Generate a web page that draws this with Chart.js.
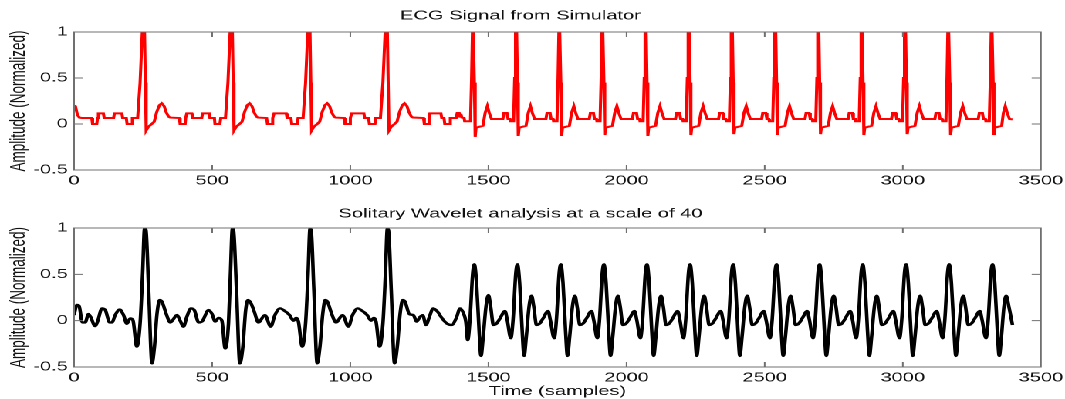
<!DOCTYPE html>
<html>
<head>
<meta charset="utf-8">
<script src="https://cdn.jsdelivr.net/npm/chart.js@4.4.1/dist/chart.umd.min.js"></script>
<style>
  html, body { margin: 0; padding: 0; background: #fff; overflow: hidden; }
  /* the original figure is stretched sideways, so draw narrow and widen it */
  #wrap { width: 690px; height: 399px; transform: scaleX(1.5435); transform-origin: 0 0; }
  #top { position: relative; width: 690px; height: 195px; }
  #bot { position: relative; width: 690px; height: 204px; }
</style>
</head>
<body>
<div id="wrap">
  <div id="top"><canvas id="ecgChart"></canvas></div>
  <div id="bot"><canvas id="waveChart"></canvas></div>
</div>
<script>
'use strict';

let xTicks = [0, 500, 1000, 1500, 2000, 2500, 3000, 3500];
let yTicks = [-0.5, 0, 0.5, 1];

let ecgTitle = 'ECG Signal from Simulator';
let waveTitle = 'Solitary Wavelet analysis at a scale of 40';
let yLabel = 'Amplitude (Normalized)';
let xLabel = 'Time (samples)';

// [sample, amplitude]
let ecgSignal = [
  [0,0.20],[5,0.19],[12,0.10],[19,0.07],[28,0.065],[64,0.065],[67,0.0],[82,0.0],[85,0.065],[88,0.115],[106,0.115],[109,0.065],[143,0.065],[146,0.115],[173,0.115],[176,0.065],[189,0.065],[192,0.0],[209,0.0],[211,0.065],[230,0.065],
  [239,0.45],[247,1.0],[251,0.85],[255,1.0],[258,0.45],[261,-0.07],[269,-0.03],[281,0.0],[290,0.025],[299,0.13],[309,0.205],[317,0.225],[326,0.195],[333,0.13],[342,0.08],[348,0.07],[381,0.065],[384,0.0],[402,0.0],[404,0.065],[408,0.115],[426,0.115],[430,0.065],[462,0.065],[465,0.115],[490,0.115],[492,0.065],[508,0.065],[510,0.0],[528,0.0],[531,0.065],[548,0.065],
  [557,0.45],[565,1.0],[569,0.85],[573,1.0],[576,0.45],[579,-0.07],[587,-0.03],[599,0.0],[608,0.025],[617,0.13],[627,0.205],[635,0.225],[644,0.195],[651,0.13],[660,0.08],[666,0.07],[697,0.065],[700,0.0],[716,0.0],[719,0.065],[724,0.115],[768,0.115],[771,0.065],[785,0.065],[788,0.0],[808,0.0],[811,0.065],[829,0.065],
  [838,0.45],[846,1.0],[850,0.85],[854,1.0],[857,0.45],[860,-0.07],[868,-0.03],[880,0.0],[889,0.025],[898,0.13],[908,0.205],[916,0.225],[925,0.195],[932,0.13],[941,0.08],[947,0.07],[978,0.065],[981,0.0],[997,0.0],[1000,0.065],[1005,0.115],[1049,0.115],[1052,0.065],[1066,0.065],[1069,0.0],[1089,0.0],[1092,0.065],[1109,0.065],
  [1118,0.45],[1126,1.0],[1130,0.85],[1134,1.0],[1137,0.45],[1140,-0.07],[1148,-0.03],[1160,0.0],[1169,0.025],[1178,0.13],[1188,0.205],[1196,0.225],[1205,0.195],[1212,0.13],[1221,0.08],[1227,0.07],[1265,0.065],[1268,0.0],[1282,0.0],[1285,0.065],[1288,0.115],[1328,0.115],[1331,0.065],[1339,0.065],[1342,0.0],[1359,0.0],[1362,0.065],[1383,0.065],[1387,0.12],[1394,0.12],[1397,0.08],[1400,0.11],[1404,0.07],[1412,0.065],[1414,0.03],
  [1435,0.03],[1439,0.5],[1442,1.0],[1444,0.75],[1446,1.0],[1449,0.45],[1452,-0.14],[1455,-0.04],[1480,-0.02],[1488,0.12],[1496,0.195],[1503,0.12],[1511,0.055],[1552,0.055],[1556,0.12],[1567,0.12],[1571,0.055],[1578,0.055],[1580,0.03],
  [1591,0.03],[1595,0.5],[1598,1.0],[1600,0.75],[1602,1.0],[1605,0.45],[1608,-0.13],[1611,-0.04],[1636,-0.02],[1644,0.12],[1652,0.195],[1659,0.12],[1667,0.055],[1708,0.055],[1712,0.12],[1723,0.12],[1727,0.055],[1734,0.055],[1736,0.03],
  [1748,0.03],[1752,0.5],[1755,1.0],[1757,0.75],[1759,1.0],[1762,0.45],[1765,-0.13],[1768,-0.04],[1793,-0.02],[1801,0.12],[1809,0.195],[1816,0.12],[1824,0.055],[1865,0.055],[1869,0.12],[1880,0.12],[1884,0.055],[1891,0.055],[1893,0.03],
  [1904,0.03],[1908,0.5],[1911,1.0],[1913,0.75],[1915,1.0],[1918,0.45],[1921,-0.12],[1924,-0.04],[1949,-0.02],[1957,0.12],[1965,0.195],[1972,0.12],[1980,0.055],[2021,0.055],[2025,0.12],[2036,0.12],[2040,0.055],[2047,0.055],[2049,0.03],
  [2060,0.03],[2064,0.5],[2067,1.0],[2069,0.75],[2071,1.0],[2074,0.45],[2077,-0.13],[2080,-0.04],[2105,-0.02],[2113,0.12],[2121,0.195],[2128,0.12],[2136,0.055],[2177,0.055],[2181,0.12],[2192,0.12],[2196,0.055],[2203,0.055],[2205,0.03],
  [2216,0.03],[2220,0.5],[2223,1.0],[2225,0.75],[2227,1.0],[2230,0.45],[2233,-0.12],[2236,-0.04],[2261,-0.02],[2269,0.12],[2277,0.195],[2284,0.12],[2292,0.055],[2333,0.055],[2337,0.12],[2348,0.12],[2352,0.055],[2359,0.055],[2361,0.03],
  [2372,0.03],[2376,0.5],[2379,1.0],[2381,0.75],[2383,1.0],[2386,0.45],[2389,-0.11],[2392,-0.04],[2417,-0.02],[2425,0.12],[2433,0.195],[2440,0.12],[2448,0.055],[2489,0.055],[2493,0.12],[2504,0.12],[2508,0.055],[2515,0.055],[2517,0.03],
  [2529,0.03],[2533,0.5],[2536,1.0],[2538,0.75],[2540,1.0],[2543,0.45],[2546,-0.12],[2549,-0.04],[2574,-0.02],[2582,0.12],[2590,0.195],[2597,0.12],[2605,0.055],[2646,0.055],[2650,0.12],[2661,0.12],[2665,0.055],[2672,0.055],[2674,0.03],
  [2685,0.03],[2689,0.5],[2692,1.0],[2694,0.75],[2696,1.0],[2699,0.45],[2702,-0.11],[2705,-0.04],[2730,-0.02],[2738,0.12],[2746,0.195],[2753,0.12],[2761,0.055],[2802,0.055],[2806,0.12],[2817,0.12],[2821,0.055],[2828,0.055],[2830,0.03],
  [2842,0.03],[2846,0.5],[2849,1.0],[2851,0.75],[2853,1.0],[2856,0.45],[2859,-0.12],[2862,-0.04],[2887,-0.02],[2895,0.12],[2903,0.195],[2910,0.12],[2918,0.055],[2959,0.055],[2963,0.12],[2974,0.12],[2978,0.055],[2985,0.055],[2987,0.03],
  [2999,0.03],[3003,0.5],[3006,1.0],[3008,0.75],[3010,1.0],[3013,0.45],[3016,-0.11],[3019,-0.04],[3044,-0.02],[3052,0.12],[3060,0.195],[3067,0.12],[3075,0.055],[3116,0.055],[3120,0.12],[3131,0.12],[3135,0.055],[3142,0.055],[3144,0.03],
  [3156,0.03],[3160,0.5],[3163,1.0],[3165,0.75],[3167,1.0],[3170,0.45],[3173,-0.12],[3176,-0.04],[3201,-0.02],[3209,0.12],[3217,0.195],[3224,0.12],[3232,0.055],[3273,0.055],[3277,0.12],[3288,0.12],[3292,0.055],[3299,0.055],[3301,0.03],
  [3313,0.03],[3317,0.5],[3320,1.0],[3322,0.75],[3324,1.0],[3327,0.45],[3330,-0.12],[3333,-0.04],[3358,-0.02],[3364,0.12],[3371,0.195],[3378,0.12],[3386,0.055],[3397,0.05]
];

// [sample, amplitude]
let waveSignal = [
  [0,0.06],[10,0.17],[18,0.16],[30,-0.02],[40,-0.02],[52,0.072],[60,0.04],[76,-0.058],[85,-0.01],[101,0.133],[113,0.115],[129,-0.02],[137,-0.02],[149,0.061],[165,0.12],[179,0.06],[191,-0.035],[203,0.025],[213,0.006],
  [227,-0.28],[239,-0.03],[248,0.5],[255,0.99],[260,0.98],[270,0.33],[282,-0.46],[291,-0.28],[300,0.07],[310,0.223],[318,0.205],[334,0.07],[348,-0.02],[357,0.005],[372,0.061],[384,0.0],[396,-0.065],[408,0.04],[423,0.133],[435,0.115],[451,-0.02],[463,-0.01],[487,0.115],[499,0.075],[511,-0.01],[523,0.03],[535,0.0],
  [547,-0.3],[559,-0.03],[566,0.5],[573,0.99],[577,0.98],[588,0.33],[600,-0.46],[611,-0.28],[621,0.11],[629,0.223],[639,0.195],[652,0.1],[667,-0.02],[691,0.06],[712,-0.065],[727,0.06],[746,0.133],[760,0.11],[780,0.061],[794,0.0],[804,0.03],[812,-0.01],
  [826,-0.28],[838,-0.03],[847,0.5],[854,0.99],[858,0.98],[868,0.33],[880,-0.46],[890,-0.28],[900,0.07],[909,0.223],[917,0.205],[933,0.07],[948,-0.02],[972,0.06],[993,-0.065],[1008,0.06],[1027,0.133],[1041,0.11],[1061,0.061],[1075,0.0],[1085,0.03],[1093,-0.01],
  [1106,-0.28],[1118,-0.03],[1127,0.5],[1134,0.99],[1138,0.98],[1148,0.33],[1160,-0.46],[1170,-0.28],[1180,0.07],[1190,0.223],[1198,0.205],[1214,0.07],[1228,0.061],[1240,-0.01],[1252,0.04],[1262,0.06],[1274,-0.047],[1286,0.04],[1300,0.133],[1315,0.1],[1331,0.03],[1349,-0.03],[1367,-0.047],[1385,0.04],[1397,0.133],[1408,0.09],[1418,-0.01],
  [1425,-0.21],[1433,0.007],[1443,0.511],[1449,0.608],[1457,0.403],[1466,-0.1],[1473,-0.381],[1481,-0.173],[1491,0.151],[1500,0.277],[1508,0.151],[1518,-0.047],[1530,-0.029],[1542,0.025],[1560,0.104],[1568,0.007],
  [1581,-0.19],[1589,0.007],[1599,0.511],[1605,0.608],[1613,0.403],[1622,-0.1],[1629,-0.381],[1637,-0.173],[1647,0.151],[1656,0.27],[1664,0.151],[1674,-0.047],[1686,-0.029],[1698,0.025],[1716,0.104],[1724,0.007],
  [1738,-0.19],[1746,0.007],[1756,0.511],[1762,0.608],[1770,0.403],[1779,-0.1],[1786,-0.381],[1794,-0.173],[1804,0.151],[1813,0.27],[1821,0.151],[1831,-0.047],[1843,-0.029],[1855,0.025],[1873,0.104],[1881,0.007],
  [1894,-0.19],[1902,0.007],[1912,0.511],[1918,0.608],[1926,0.403],[1935,-0.1],[1942,-0.381],[1950,-0.173],[1960,0.151],[1969,0.27],[1977,0.151],[1987,-0.047],[1999,-0.029],[2011,0.025],[2029,0.104],[2037,0.007],
  [2050,-0.19],[2058,0.007],[2068,0.511],[2074,0.608],[2082,0.403],[2091,-0.1],[2098,-0.381],[2106,-0.173],[2116,0.151],[2125,0.27],[2133,0.151],[2143,-0.047],[2155,-0.029],[2167,0.025],[2185,0.104],[2193,0.007],
  [2206,-0.19],[2214,0.007],[2224,0.511],[2230,0.608],[2238,0.403],[2247,-0.1],[2254,-0.381],[2262,-0.173],[2272,0.151],[2281,0.27],[2289,0.151],[2299,-0.047],[2311,-0.029],[2323,0.025],[2341,0.104],[2349,0.007],
  [2362,-0.19],[2370,0.007],[2380,0.511],[2386,0.608],[2394,0.403],[2403,-0.1],[2410,-0.381],[2418,-0.173],[2428,0.151],[2437,0.27],[2445,0.151],[2455,-0.047],[2467,-0.029],[2479,0.025],[2497,0.104],[2505,0.007],
  [2519,-0.19],[2527,0.007],[2537,0.511],[2543,0.608],[2551,0.403],[2560,-0.1],[2567,-0.381],[2575,-0.173],[2585,0.151],[2594,0.27],[2602,0.151],[2612,-0.047],[2624,-0.029],[2636,0.025],[2654,0.104],[2662,0.007],
  [2675,-0.19],[2683,0.007],[2693,0.511],[2699,0.608],[2707,0.403],[2716,-0.1],[2723,-0.381],[2731,-0.173],[2741,0.151],[2750,0.27],[2758,0.151],[2768,-0.047],[2780,-0.029],[2792,0.025],[2810,0.104],[2818,0.007],
  [2831,-0.19],[2839,0.007],[2849,0.511],[2855,0.608],[2863,0.403],[2872,-0.1],[2879,-0.381],[2887,-0.173],[2897,0.151],[2906,0.27],[2914,0.151],[2924,-0.047],[2936,-0.029],[2948,0.025],[2966,0.104],[2974,0.007],
  [2988,-0.19],[2996,0.007],[3006,0.511],[3012,0.608],[3020,0.403],[3029,-0.1],[3036,-0.381],[3044,-0.173],[3054,0.151],[3063,0.27],[3071,0.151],[3081,-0.047],[3093,-0.029],[3105,0.025],[3123,0.104],[3131,0.007],
  [3144,-0.19],[3152,0.007],[3162,0.511],[3168,0.608],[3176,0.403],[3185,-0.1],[3192,-0.381],[3200,-0.173],[3210,0.151],[3219,0.27],[3227,0.151],[3237,-0.047],[3249,-0.029],[3261,0.025],[3279,0.104],[3287,0.007],
  [3301,-0.19],[3309,0.007],[3319,0.511],[3325,0.608],[3333,0.403],[3342,-0.1],[3349,-0.381],[3357,-0.173],[3366,0.151],[3374,0.27],[3384,0.15],[3397,-0.047]
];

let textFont = { family: "'Liberation Sans', Arial, sans-serif", size: 13 };

// box round the plot with short inward ticks, like the original
let boxTicks = {
  id: 'boxTicks',
  afterDatasetsDraw(chart) {
    let ctx = chart.ctx;
    let a = chart.chartArea;
    let xs = chart.scales.x;
    let ys = chart.scales.y;
    ctx.save();
    ctx.strokeStyle = '#707070';
    ctx.lineWidth = 1;
    ctx.beginPath();
    ctx.rect(a.left, a.top, a.right - a.left, a.bottom - a.top);
    for (let v of xTicks) {
      let px = xs.getPixelForValue(v);
      ctx.moveTo(px, a.top); ctx.lineTo(px, a.top + 5);
      ctx.moveTo(px, a.bottom); ctx.lineTo(px, a.bottom - 5);
    }
    for (let v of yTicks) {
      let py = ys.getPixelForValue(v);
      ctx.moveTo(a.left, py); ctx.lineTo(a.left + 6, py);
      ctx.moveTo(a.right, py); ctx.lineTo(a.right - 6, py);
    }
    ctx.stroke();
    ctx.restore();
  }
};

function makeChart(canvasId, title, titlePad, points, color, width, smooth, bottomAxis) {
  let ctx = document.getElementById(canvasId).getContext('2d');
  return new Chart(ctx, {
    type: 'line',
    data: {
      datasets: [{
        data: points.map(p => ({ x: p[0], y: p[1] })),
        borderColor: color,
        borderWidth: width,
        pointRadius: 0,
        fill: false,
        tension: smooth ? 0.4 : 0,
        cubicInterpolationMode: smooth ? 'monotone' : 'default'
      }]
    },
    options: {
      responsive: true,
      maintainAspectRatio: false,
      animation: false,
      devicePixelRatio: 2,
      layout: { padding: { left: 0, right: 15.6, top: 0, bottom: 0 } },
      plugins: {
        legend: { display: false },
        tooltip: { enabled: false },
        title: {
          display: true,
          text: title,
          color: '#111',
          font: Object.assign({ weight: 'normal' }, textFont),
          padding: titlePad
        }
      },
      scales: {
        x: {
          type: 'linear',
          min: 0,
          max: 3500,
          afterBuildTicks: s => { s.ticks = xTicks.map(v => ({ value: v })); },
          afterFit: s => { s.height = bottomAxis ? 32 : 25; s.paddingLeft = 0; s.paddingRight = 0; },
          ticks: { color: '#111', font: textFont, padding: 3, maxRotation: 0, autoSkip: false, callback: v => String(v) },
          grid: { display: false, drawTicks: false },
          border: { display: false },
          title: {
            display: bottomAxis,
            text: xLabel,
            color: '#111',
            font: textFont,
            padding: { top: 0, bottom: 0 }
          }
        },
        y: {
          min: -0.5,
          max: 1,
          afterBuildTicks: s => { s.ticks = yTicks.map(v => ({ value: v })); },
          afterFit: s => { s.width = 48; },
          ticks: { color: '#111', font: textFont, padding: 4, callback: v => String(v) },
          grid: { display: false, drawTicks: false },
          border: { display: false },
          title: {
            display: true,
            text: yLabel,
            color: '#111',
            font: { family: textFont.family, size: 13.5 },
            padding: { top: 4, bottom: 0 }
          }
        }
      }
    },
    plugins: [boxTicks]
  });
}

makeChart('ecgChart', ecgTitle, { top: 8, bottom: 8.4 }, ecgSignal, '#ff0000', 2, false, false);
makeChart('waveChart', waveTitle, { top: 11, bottom: 6.4 }, waveSignal, '#000000', 2.3, true, true);
</script>
</body>
</html>
